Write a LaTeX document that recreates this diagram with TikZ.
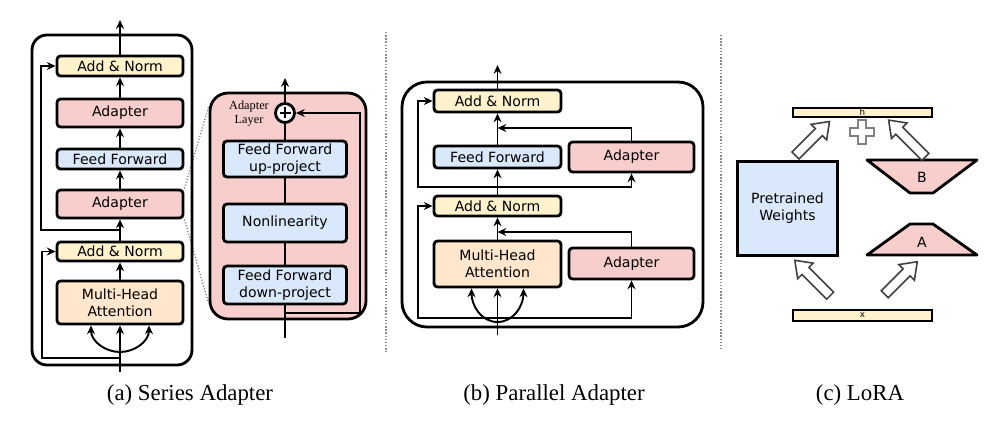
\documentclass[tikz,border=0pt]{standalone}
\usepackage{fontspec}
\setmainfont{Liberation Serif}
\setsansfont{DejaVu Sans}
\usepackage{tikz}
\usetikzlibrary{arrows.meta,positioning,calc,backgrounds}
\definecolor{normfill}{HTML}{FFF2CC}
\definecolor{adaptfill}{HTML}{F8CECC}
\definecolor{fffill}{HTML}{DAE8FC}
\definecolor{attnfill}{HTML}{FFE6CC}

\begin{document}
\begin{tikzpicture}[x=0.02cm, y=-0.02cm,
  blk/.style={draw, line width=1.6pt, rounded corners=2pt, inner sep=0pt, align=center, font=\fontsize{8}{9.6}\selectfont\sffamily},
  norm/.style={blk, fill=normfill},
  adapt/.style={blk, fill=adaptfill},
  ffwd/.style={blk, fill=fffill},
  attn/.style={blk, fill=attnfill},
  outerbox/.style={draw, line width=1.6pt},
  arr/.style={-{Stealth[length=5pt,width=4.5pt]}, line width=1.1pt},
  wire/.style={line width=1.1pt},
  zoomline/.style={densely dotted, gray, line width=0.7pt},
  sep/.style={densely dotted, black!45, line width=0.8pt},
  bar/.style={draw, line width=1pt, fill=normfill, inner sep=0pt, font=\fontsize{5}{5}\selectfont\sffamily},
  trap/.style={draw, line width=1.6pt, fill=adaptfill, line join=round},
  hollow/.style={draw=black!75, fill=white, line width=0.9pt, line join=miter},
  plusmark/.style={draw=black!50, fill=white, line width=1pt},
  caption/.style={font=\fontsize{13}{15}\selectfont}
]
  \useasboundingbox (0,0) rectangle (996,422);

  \draw[outerbox, rounded corners=0.3cm] (32,35) rectangle (192,365);
  \node[norm, minimum width=2.52cm, minimum height=0.40cm] (anA) at (120,66) {Add \& Norm};
  \node[adapt, minimum width=2.52cm, minimum height=0.56cm] (adA1) at (120,113) {Adapter};
  \node[ffwd, minimum width=2.52cm, minimum height=0.40cm] (ffA) at (120,159) {Feed Forward};
  \node[adapt, minimum width=2.52cm, minimum height=0.56cm] (adA2) at (120,204) {Adapter};
  \node[norm, minimum width=2.52cm, minimum height=0.38cm] (anA2) at (120,251.5) {Add \& Norm};
  \node[attn, minimum width=2.52cm, minimum height=0.86cm] (mhaA) at (120,302.5) {Multi-Head\\Attention};
  \coordinate (inA) at (120,372);
  \coordinate (splitA) at (120,352);
  \coordinate (sA1) at (120,358);
  \coordinate (sA2) at (120,230);
  \coordinate (outA) at (120,20);

  \draw[arr] (inA) -- (mhaA.south);
  \draw[arr] (splitA) to[out=180,in=-90] ($(mhaA.south)+(-29,0)$);
  \draw[arr] (splitA) to[out=0,in=-90] ($(mhaA.south)+(29,0)$);
  \draw[arr] (sA1) -| ($(anA2.west)+(-14,0)$) -- (anA2.west);
  \draw[arr] (mhaA.north) -- (anA2.south);
  \draw[arr] (anA2.north) -- (adA2.south);
  \draw[arr] (sA2) -| ($(anA.west)+(-15,0)$) -- (anA.west);
  \draw[arr] (adA2.north) -- (ffA.south);
  \draw[arr] (ffA.north) -- (adA1.south);
  \draw[arr] (adA1.north) -- (anA.south);
  \draw[arr] (anA.north) -- (outA);

  \node[adapt, rounded corners=0.36cm, minimum width=3.12cm, minimum height=4.52cm] (layer) at (288,206) {};
  \begin{scope}[on background layer]
    \draw[zoomline] (adA2.north east) -- ([yshift=-0.3cm]layer.north west);
    \draw[zoomline] (adA2.south east) -- ([yshift=0.34cm]layer.south west);
  \end{scope}
  \node[ffwd, minimum width=2.46cm, minimum height=0.72cm] (upL) at (285,159) {Feed Forward\\up-project};
  \node[ffwd, minimum width=2.46cm, minimum height=0.76cm] (nlL) at (285,223) {Nonlinearity};
  \node[ffwd, minimum width=2.46cm, minimum height=0.76cm] (dnL) at (285,285) {Feed Forward\\down-project};
  \node[font=\fontsize{7}{8}\selectfont, align=center, inner sep=0pt] (layerLbl) at (249,114) {Adapter\\Layer};
  \node[circle, draw, fill=white, line width=1.6pt, minimum size=0.38cm, inner sep=0pt,
    path picture={\draw[line width=1.3pt] ([xshift=-0.11cm]path picture bounding box.center) -- ([xshift=0.11cm]path picture bounding box.center);
      \draw[line width=1.3pt] ([yshift=-0.11cm]path picture bounding box.center) -- ([yshift=0.11cm]path picture bounding box.center);}] (plusL) at (285,113) {};
  \coordinate (inL) at (285,338);
  \coordinate (sL) at (285,313);
  \coordinate (outL) at (285,78);

  \draw[wire] (inL) -- (dnL.south);
  \draw[wire] (dnL.north) -- (nlL.south);
  \draw[wire] (nlL.north) -- (upL.south);
  \draw[wire] (upL.north) -- (plusL.south);
  \draw[arr] (plusL.north) -- (outL);
  \draw[arr] (sL) -| ($(plusL.east)+(64,0)$) -- (plusL.east);

  \draw[sep] (386,32) -- (386,352);

  \draw[outerbox, rounded corners=0.5cm] (402,82) rectangle (703,327);
  \node[norm, minimum width=2.54cm, minimum height=0.44cm] (anB1) at (497.5,101) {Add \& Norm};
  \node[ffwd, minimum width=2.54cm, minimum height=0.44cm] (ffB) at (497.5,157) {Feed Forward};
  \node[adapt, minimum width=2.5cm, minimum height=0.60cm] (adB1) at (631.5,157) {Adapter};
  \node[norm, minimum width=2.54cm, minimum height=0.40cm] (anB2) at (497.5,206) {Add \& Norm};
  \node[attn, minimum width=2.54cm, minimum height=0.92cm] (mhaB) at (497.5,264) {Multi-Head\\Attention};
  \node[adapt, minimum width=2.5cm, minimum height=0.62cm] (adB2) at (631.5,263.5) {Adapter};
  \coordinate (inB) at (497.5,335);
  \coordinate (splitB) at (497.5,322);
  \coordinate (sB1) at (497.5,318);
  \coordinate (jB1) at (497.5,232);
  \coordinate (sB2) at (497.5,187);
  \coordinate (jB2) at (497.5,128);
  \coordinate (outB) at (497.5,65);

  \draw[arr] (inB) -- (mhaB.south);
  \draw[arr] (splitB) to[out=180,in=-90] ($(mhaB.south)+(-26,0)$);
  \draw[arr] (splitB) to[out=0,in=-90] ($(mhaB.south)+(26,0)$);
  \draw[arr] (sB1) -| ($(anB2.west)+(-15,0)$) -- (anB2.west);
  \draw[arr] (sB1) -| (adB2.south);
  \draw[arr] (adB2.north) |- (jB1);
  \draw[arr] (mhaB.north) -- (anB2.south);
  \draw[arr] (anB2.north) -- (ffB.south);
  \draw[arr] (sB2) -| ($(anB1.west)+(-15,0)$) -- (anB1.west);
  \draw[arr] (sB2) -| (adB1.south);
  \draw[arr] (adB1.north) |- (jB2);
  \draw[arr] (ffB.north) -- (anB1.south);
  \draw[arr] (anB1.north) -- (outB);

  \draw[sep] (721,35) -- (721,350);

  \node[bar, minimum width=2.78cm, minimum height=0.18cm] (hbar) at (862.5,112.5) {h};
  \node[bar, minimum width=2.78cm, minimum height=0.22cm] (xbar) at (862.5,315.5) {x};
  \node[ffwd, line width=1.8pt, rounded corners=0pt, minimum width=2.0cm, minimum height=1.88cm] (pw) at (787.5,208.5) {Pretrained\\Weights};
  \draw[trap] (867,160) -- (977,160) -- (933,193) -- (910,193) -- cycle;
  \node[font=\fontsize{8}{9.6}\selectfont\sffamily] (lblB) at (922,177) {B};
  \draw[trap] (910,224) -- (933,224) -- (977,255) -- (867,255) -- cycle;
  \node[font=\fontsize{8}{9.6}\selectfont\sffamily] (lblA) at (922,242) {A};
  \draw[plusmark, shift={(862,132)}] (-4,-12) -- (4,-12) -- (4,-4) -- (12,-4) -- (12,4) -- (4,4) -- (4,12) -- (-4,12) -- (-4,4) -- (-12,4) -- (-12,-4) -- (-4,-4) -- cycle;
  \draw[hollow, shift={(812.5,138.5)}, rotate=45] (-24,-5) -- (9,-5) -- (9,-11) -- (24,0) -- (9,11) -- (9,5) -- (-24,5) -- cycle;
  \draw[hollow, shift={(907,138.5)}, rotate=135] (-26,-5) -- (11,-5) -- (11,-11) -- (26,0) -- (11,11) -- (11,5) -- (-26,5) -- cycle;
  \draw[hollow, shift={(812.5,278)}, rotate=135] (-25,-5) -- (10,-5) -- (10,-11) -- (25,0) -- (10,11) -- (10,5) -- (-25,5) -- cycle;
  \draw[hollow, shift={(901,278)}, rotate=45] (-23,-5) -- (8,-5) -- (8,-11) -- (23,0) -- (8,11) -- (8,5) -- (-23,5) -- cycle;

  \node[caption] (capA) at (190,395) {(a) Series Adapter};
  \node[caption] (capB) at (554,395) {(b) Parallel Adapter};
  \node[caption] (capC) at (860,395) {(c) LoRA};
\end{tikzpicture}
\end{document}
